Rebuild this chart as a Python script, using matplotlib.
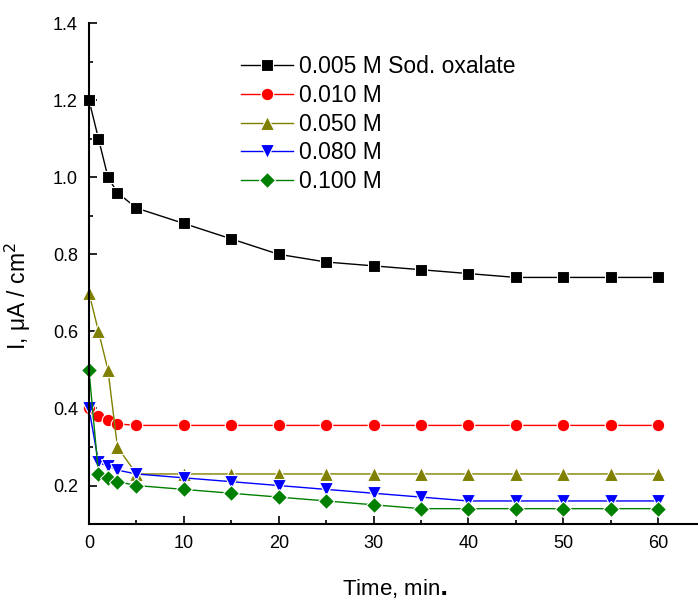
import numpy as np
import matplotlib
matplotlib.use("Agg")
import matplotlib.pyplot as plt
from matplotlib.ticker import MultipleLocator, FormatStrFormatter

plt.rcParams['font.family'] = ['Liberation Sans', 'DejaVu Sans']

t = [0, 1, 2, 3, 5, 10, 15, 20, 25, 30, 35, 40, 45, 50, 55, 60]
i_005 = [1.20, 1.10, 1.00, 0.96, 0.92, 0.88, 0.84, 0.80, 0.78, 0.77, 0.76, 0.75, 0.74, 0.74, 0.74, 0.74]
i_010 = [0.40, 0.38, 0.37, 0.36, 0.356, 0.356, 0.356, 0.356, 0.356, 0.356, 0.356, 0.356, 0.356, 0.356, 0.356, 0.356]
i_050 = [0.70, 0.60, 0.50, 0.30, 0.23, 0.23, 0.23, 0.23, 0.23, 0.23, 0.23, 0.23, 0.23, 0.23, 0.23, 0.23]
i_080 = [0.40, 0.26, 0.25, 0.24, 0.23, 0.22, 0.21, 0.20, 0.19, 0.18, 0.17, 0.16, 0.16, 0.16, 0.16, 0.16]
i_100 = [0.50, 0.23, 0.22, 0.21, 0.20, 0.19, 0.18, 0.17, 0.16, 0.15, 0.14, 0.14, 0.14, 0.14, 0.14, 0.14]

labels = ["0.005 M Sod. oxalate", "0.010 M", "0.050 M", "0.080 M", "0.100 M"]
series = [i_005, i_010, i_050, i_080, i_100]
colors = ["black", "red", "#808000", "blue", "green"]
markers = ["s", "o", "^", "v", "D"]
msizes = [8, 9, 10.5, 10.5, 8]

fig = plt.figure(figsize=(6.98, 6.01), dpi=100)
ax = fig.add_axes([0.1275, 0.128, 0.8725, 0.8336])

for y, lab, c, m, ms in zip(series, labels, colors, markers, msizes):
    ax.plot(t, y, color=c, marker=m, markersize=ms, linewidth=1, label=lab,
            markeredgecolor='white', markeredgewidth=0.8, clip_on=False)

ax.set_xlim(0, 64.2)
ax.set_ylim(0.1, 1.4)
ax.xaxis.set_major_locator(MultipleLocator(10))
ax.xaxis.set_minor_locator(MultipleLocator(5))
ax.yaxis.set_major_locator(MultipleLocator(0.2))
ax.yaxis.set_minor_locator(MultipleLocator(0.1))
ax.set_xticks([0, 10, 20, 30, 40, 50, 60])
ax.set_yticks([0.2, 0.4, 0.6, 0.8, 1.0, 1.2, 1.4])
ax.yaxis.set_major_formatter(FormatStrFormatter('%.1f'))
ax.tick_params(which='both', direction='in', width=1.2, labelsize=13)
ax.tick_params(which='major', length=6, pad=8)
ax.tick_params(which='minor', length=3)
for s in ['top', 'right']:
    ax.spines[s].set_visible(False)
for s in ['left', 'bottom']:
    ax.spines[s].set_linewidth(1.5)

ax.set_xlabel(r"Time, min$\mathbf{.}$", fontsize=16)
ax.set_ylabel(r"I, μA / cm$^2$", fontsize=16.5)
ax.xaxis.set_label_coords(0.502, -0.105)
ax.yaxis.set_label_coords(-0.092, 0.456)

ax.legend(loc='upper left', bbox_to_anchor=(0.345, 0.908), bbox_transform=fig.transFigure,
          frameon=False, fontsize=16.5, numpoints=1, handlelength=2.26,
          handletextpad=0.3, labelspacing=0.25, borderaxespad=0, borderpad=0)

fig.savefig("out.png", dpi=100)
